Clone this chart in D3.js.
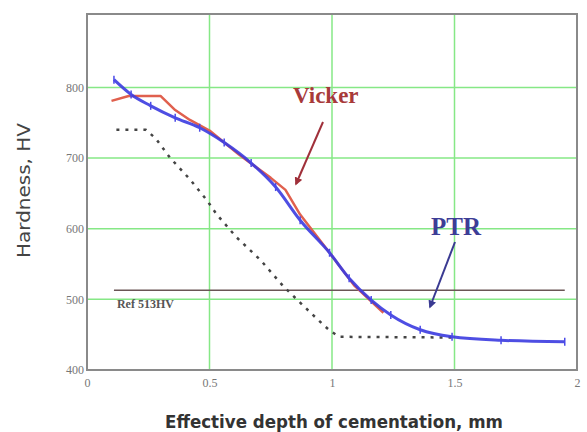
<!DOCTYPE html>
<html><head><meta charset="utf-8">
<script src="https://cdn.jsdelivr.net/npm/d3@7"></script>
<style>body{margin:0;background:#fff}svg{display:block}</style>
</head><body>
<svg id="c" width="587" height="432"></svg>
<script>
const xTicks = [0, 0.5, 1, 1.5, 2];
const xTickLabels = ["0", "0.5", "1", "1.5", "2"];
const yTicks = [400, 500, 600, 700, 800];
const yTickLabels = ["400", "500", "600", "700", "800"];
const gridX = [0.5, 1, 1.5];
const gridY = [500, 600, 700, 800];

const vickerX = [0.10, 0.17, 0.30, 0.36, 0.42, 0.50, 0.62, 0.75, 0.81, 0.87, 0.99, 1.09, 1.21];
const vickerY = [781, 788, 788, 768, 754, 739, 705, 672, 655, 620, 566, 520, 481];

const ptrX = [0.11, 0.18, 0.26, 0.36, 0.46, 0.56, 0.67, 0.77, 0.87, 0.99, 1.07, 1.16, 1.24, 1.36, 1.49, 1.69, 1.95];
const ptrY = [811, 790, 774, 757, 743, 722, 693, 659, 612, 566, 530, 499, 478, 457, 447, 442, 440];

const dotX = [0.12, 0.24, 0.28, 0.34, 0.42, 0.49, 0.53, 0.61, 0.71, 0.80, 0.88, 0.94, 0.99, 1.03, 1.50];
const dotY = [740, 740, 728, 700, 670, 640, 620, 588, 555, 519, 492, 472, 456, 447, 446];

const refValue = 513;
const refRange = [0.11, 1.95];
const refLabel = "Ref 513HV";

const svg = d3.select("#c");
const x = d3.scaleLinear().domain([0, 2]).range([87, 577]);
const y = d3.scaleLinear().domain([400, 904]).range([370, 14]);

// grid
svg.append("g").selectAll("line").data(gridX).join("line")
  .attr("x1", d => x(d)).attr("x2", d => x(d)).attr("y1", y(904)).attr("y2", y(400))
  .attr("stroke", "#86e886").attr("stroke-width", 1.5);
svg.append("g").selectAll("line").data(gridY).join("line")
  .attr("x1", x(0)).attr("x2", x(2)).attr("y1", d => y(d)).attr("y2", d => y(d))
  .attr("stroke", "#86e886").attr("stroke-width", 1.5);

// frame
svg.append("rect").attr("x", x(0)).attr("y", y(904)).attr("width", x(2) - x(0)).attr("height", y(400) - y(904))
  .attr("fill", "none").attr("stroke", "#8a8a8a").attr("stroke-width", 2);

// axes
const xAxis = d3.axisBottom(x).tickValues(xTicks).tickFormat((d, i) => xTickLabels[i]).tickSize(0).tickPadding(8);
const gx = svg.append("g").attr("transform", `translate(0,${y(400)})`).call(xAxis);
gx.select(".domain").remove();
gx.selectAll("text").attr("font-family", "Liberation Serif, serif").attr("font-size", 12).attr("fill", "#777");

const yAxis = d3.axisLeft(y).tickValues(yTicks).tickFormat((d, i) => yTickLabels[i]).tickSize(0).tickPadding(3);
const gy = svg.append("g").attr("transform", `translate(${x(0)},0)`).call(yAxis);
gy.select(".domain").remove();
gy.selectAll("text").attr("font-family", "Liberation Serif, serif").attr("font-size", 12).attr("fill", "#777");

// reference line
svg.append("line").attr("x1", x(refRange[0])).attr("x2", x(refRange[1]))
  .attr("y1", y(refValue)).attr("y2", y(refValue)).attr("stroke", "#6a5555").attr("stroke-width", 1.5);
svg.append("text").attr("x", x(refRange[0]) + 3).attr("y", y(refValue) + 18)
  .attr("font-family", "Liberation Serif, serif").attr("font-size", 12).attr("font-weight", "bold")
  .attr("fill", "#555").text(refLabel);

const line = d3.line().x(d => x(d[0])).y(d => y(d[1]));

// dotted
svg.append("path").datum(dotX.map((v, i) => [v, dotY[i]]))
  .attr("d", line).attr("fill", "none").attr("stroke", "#444").attr("stroke-width", 2.5)
  .attr("stroke-dasharray", "3,6");

// Vicker
svg.append("path").datum(vickerX.map((v, i) => [v, vickerY[i]]))
  .attr("d", line).attr("fill", "none").attr("stroke", "#e0604e").attr("stroke-width", 2.5)
  .attr("stroke-linejoin", "round");

// PTR
const ptrData = ptrX.map((v, i) => [v, ptrY[i]]);
svg.append("path").datum(ptrData)
  .attr("d", d3.line().x(d => x(d[0])).y(d => y(d[1])).curve(d3.curveMonotoneX))
  .attr("fill", "none").attr("stroke", "#3b3be0").attr("stroke-width", 3).attr("stroke-opacity", 0.9);
svg.append("g").selectAll("line").data(ptrData).join("line")
  .attr("x1", d => x(d[0])).attr("x2", d => x(d[0]))
  .attr("y1", d => y(d[1]) - 4).attr("y2", d => y(d[1]) + 4)
  .attr("stroke", "#4a4ae8").attr("stroke-width", 1.5);

// arrows
const defs = svg.append("defs");
function marker(id, color) {
  defs.append("marker").attr("id", id).attr("viewBox", "0 0 10 10").attr("refX", 8).attr("refY", 5)
    .attr("markerWidth", 4).attr("markerHeight", 4).attr("orient", "auto")
    .append("path").attr("d", "M0,0L10,5L0,10z").attr("fill", color);
}
marker("ar", "#a0303a");
marker("ab", "#3a3a92");

svg.append("text").attr("x", 293).attr("y", 103).attr("font-family", "Liberation Serif, serif")
  .attr("font-size", 23).attr("font-weight", "bold").attr("fill", "#a83a3a").text("Vicker");
svg.append("line").attr("x1", 323).attr("y1", 122).attr("x2", 296).attr("y2", 184)
  .attr("stroke", "#a0303a").attr("stroke-width", 2).attr("marker-end", "url(#ar)");

svg.append("text").attr("x", 431).attr("y", 235).attr("font-family", "Liberation Serif, serif")
  .attr("font-size", 25).attr("font-weight", "bold").attr("fill", "#3d3d96").text("PTR");
svg.append("line").attr("x1", 455).attr("y1", 242).attr("x2", 430).attr("y2", 307)
  .attr("stroke", "#3a3a92").attr("stroke-width", 2).attr("marker-end", "url(#ab)");

// axis titles
svg.append("text").attr("x", 165).attr("y", 428)
  .attr("font-family", "DejaVu Sans, Verdana, sans-serif").attr("font-size", 17).attr("font-weight", "bold")
  .attr("textLength", 338).attr("lengthAdjust", "spacingAndGlyphs")
  .attr("fill", "#333").text("Effective depth of cementation, mm");
svg.append("text").attr("transform", "translate(30,258) rotate(-90)")
  .attr("font-family", "DejaVu Sans, Verdana, sans-serif").attr("font-size", 17)
  .attr("textLength", 135).attr("lengthAdjust", "spacingAndGlyphs")
  .attr("fill", "#444").text("Hardness, HV");
</script>
</body></html>
